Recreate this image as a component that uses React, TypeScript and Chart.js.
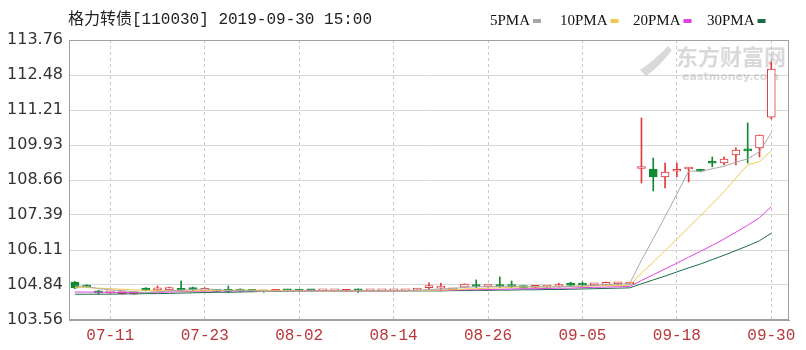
import React, { useEffect, useRef } from 'react';
import { Chart, registerables } from 'chart.js';

Chart.register(...registerables);

const titleText = '格力转债[110030] 2019-09-30 15:00';
const legendNames = ['5PMA', '10PMA', '20PMA', '30PMA'];
const watermarkCn = '东方财富网';
const watermarkEn = 'eastmoney.com';

const dates = [
  '07-08', '07-09', '07-10', '07-11', '07-12', '07-15', '07-16', '07-17', '07-18', '07-19',
  '07-22', '07-23', '07-24', '07-25', '07-26', '07-29', '07-30', '07-31', '08-01', '08-02',
  '08-05', '08-06', '08-07', '08-08', '08-09', '08-12', '08-13', '08-14', '08-15', '08-16',
  '08-19', '08-20', '08-21', '08-22', '08-23', '08-26', '08-27', '08-28', '08-29', '08-30',
  '09-02', '09-03', '09-04', '09-05', '09-06', '09-09', '09-10', '09-11', '09-12', '09-16',
  '09-17', '09-18', '09-19', '09-20', '09-23', '09-24', '09-25', '09-26', '09-27', '09-30',
];

const tickDates = ['07-11', '07-23', '08-02', '08-14', '08-26', '09-05', '09-18', '09-30'];

const yTicks = [103.56, 104.84, 106.11, 107.39, 108.66, 109.93, 111.21, 112.48, 113.76];

const opens = [
  104.94, 104.83, 104.62, 104.55, 104.52, 104.52, 104.72, 104.66, 104.66, 104.66,
  104.74, 104.64, 104.64, 104.62, 104.63, 104.62, 104.61, 104.60, 104.64, 104.64,
  104.63, 104.62, 104.62, 104.60, 104.64, 104.62, 104.62, 104.62, 104.62, 104.65,
  104.74, 104.72, 104.66, 104.76, 104.80, 104.78, 104.80, 104.80, 104.77, 104.75,
  104.76, 104.78, 104.85, 104.86, 104.84, 104.86, 104.88, 104.87, 109.08, 109.06,
  108.77, 108.98, 109.06, 108.99, 109.30, 109.28, 109.57, 109.78, 109.83, 110.95,
];

const closes = [
  104.73, 104.76, 104.55, 104.58, 104.53, 104.52, 104.64, 104.69, 104.74, 104.64,
  104.66, 104.71, 104.60, 104.60, 104.61, 104.60, 104.59, 104.63, 104.62, 104.61,
  104.62, 104.62, 104.62, 104.63, 104.62, 104.62, 104.62, 104.62, 104.65, 104.68,
  104.78, 104.74, 104.68, 104.87, 104.78, 104.78, 104.78, 104.78, 104.74, 104.75,
  104.76, 104.84, 104.82, 104.83, 104.86, 104.92, 104.90, 104.88, 109.12, 108.77,
  108.95, 109.02, 109.10, 108.98, 109.27, 109.42, 109.75, 109.72, 110.30, 112.70,
];

const highs = [
  104.97, 104.85, 104.64, 104.60, 104.55, 104.54, 104.74, 104.80, 104.76, 104.98,
  104.76, 104.74, 104.66, 104.80, 104.70, 104.63, 104.62, 104.65, 104.66, 104.66,
  104.65, 104.63, 104.63, 104.65, 104.69, 104.63, 104.63, 104.63, 104.66, 104.70,
  104.91, 104.90, 104.70, 104.88, 105.02, 104.80, 105.13, 104.98, 104.80, 104.77,
  104.78, 104.90, 104.94, 104.94, 104.88, 104.94, 104.92, 104.90, 110.92, 109.46,
  109.28, 109.28, 109.12, 109.03, 109.50, 109.50, 109.83, 110.74, 110.30, 112.96,
];

const lows = [
  104.70, 104.74, 104.50, 104.53, 104.50, 104.50, 104.62, 104.62, 104.64, 104.60,
  104.63, 104.62, 104.58, 104.56, 104.60, 104.58, 104.57, 104.59, 104.60, 104.59,
  104.60, 104.61, 104.61, 104.59, 104.56, 104.61, 104.61, 104.61, 104.61, 104.64,
  104.70, 104.62, 104.65, 104.75, 104.74, 104.76, 104.74, 104.74, 104.72, 104.73,
  104.74, 104.76, 104.78, 104.78, 104.82, 104.84, 104.86, 104.85, 108.55, 108.26,
  108.37, 108.77, 108.59, 108.96, 109.14, 109.21, 109.21, 109.28, 109.50, 110.88,
];

const ma5 = [
  104.80, 104.78, 104.70, 104.66, 104.63, 104.59, 104.56, 104.59, 104.62, 104.65,
  104.67, 104.69, 104.67, 104.64, 104.64, 104.62, 104.60, 104.61, 104.61, 104.61,
  104.61, 104.62, 104.62, 104.62, 104.62, 104.62, 104.62, 104.62, 104.63, 104.64,
  104.67, 104.69, 104.71, 104.75, 104.77, 104.77, 104.78, 104.80, 104.77, 104.77,
  104.76, 104.77, 104.78, 104.80, 104.82, 104.85, 104.87, 104.88, 105.74, 106.52,
  107.32, 108.15, 108.99, 108.97, 109.07, 109.16, 109.31, 109.43, 109.69, 110.38,
];

const ma10 = [
  104.74, 104.74, 104.72, 104.70, 104.68, 104.66, 104.64, 104.63, 104.63, 104.62,
  104.62, 104.63, 104.64, 104.64, 104.65, 104.65, 104.64, 104.64, 104.63, 104.62,
  104.61, 104.61, 104.62, 104.62, 104.62, 104.62, 104.62, 104.62, 104.62, 104.63,
  104.64, 104.65, 104.66, 104.69, 104.70, 104.72, 104.73, 104.75, 104.76, 104.77,
  104.77, 104.78, 104.79, 104.79, 104.80, 104.81, 104.82, 104.83, 105.27, 105.67,
  106.09, 106.51, 106.93, 107.35, 107.79, 108.24, 108.73, 109.21, 109.33, 109.72,
];

const ma20 = [
  104.58, 104.58, 104.57, 104.57, 104.56, 104.56, 104.56, 104.57, 104.58, 104.59,
  104.60, 104.61, 104.62, 104.62, 104.62, 104.63, 104.63, 104.63, 104.63, 104.63,
  104.63, 104.62, 104.62, 104.62, 104.62, 104.62, 104.62, 104.62, 104.63, 104.63,
  104.64, 104.64, 104.65, 104.66, 104.66, 104.67, 104.68, 104.69, 104.70, 104.70,
  104.71, 104.72, 104.72, 104.74, 104.75, 104.76, 104.77, 104.78, 105.00, 105.21,
  105.42, 105.63, 105.85, 106.06, 106.28, 106.51, 106.76, 107.01, 107.29, 107.69,
];

const ma30 = [
  104.50, 104.50, 104.50, 104.50, 104.51, 104.51, 104.52, 104.52, 104.53, 104.54,
  104.55, 104.56, 104.57, 104.57, 104.58, 104.59, 104.60, 104.60, 104.61, 104.61,
  104.61, 104.62, 104.62, 104.62, 104.62, 104.62, 104.62, 104.62, 104.62, 104.62,
  104.62, 104.62, 104.63, 104.63, 104.64, 104.64, 104.65, 104.65, 104.66, 104.66,
  104.67, 104.67, 104.68, 104.69, 104.70, 104.71, 104.72, 104.73, 104.88, 105.02,
  105.16, 105.31, 105.46, 105.60, 105.76, 105.92, 106.09, 106.26, 106.45, 106.72,
];

const RED = '#e4393c';
const GREEN = '#118a34';
const MA_COLORS = ['#a8a8a8', '#f0c850', '#e040e0', '#1b6b48'];

export default function App() {
  const canvasRef = useRef<HTMLCanvasElement | null>(null);

  useEffect(() => {
    document.body.style.margin = '0';
    const canvas = canvasRef.current;
    if (!canvas) return;

    const labels = [...dates, ''];
    const tickIdx = new Set(tickDates.map((d) => dates.indexOf(d)));
    const isUp = closes.map((c, i) => c >= opens[i]);
    const candleColor = isUp.map((u) => (u ? RED : GREEN));

    const decor = {
      id: 'decor',
      beforeDatasetsDraw(chart: any) {
        const ctx = chart.ctx as CanvasRenderingContext2D;
        ctx.save();
        ctx.fillStyle = 'rgba(170,170,170,0.45)';
        ctx.font = "bold 22px 'Noto Sans CJK SC'";
        ctx.textBaseline = 'middle';
        ctx.textAlign = 'left';
        ctx.fillText(watermarkCn, 676, 57);
        ctx.font = "bold 11px 'DejaVu Sans'";
        ctx.fillText(watermarkEn, 682, 77);
        ctx.beginPath();
        ctx.moveTo(640, 70);
        ctx.quadraticCurveTo(655, 60, 668, 46);
        ctx.lineTo(672, 50);
        ctx.quadraticCurveTo(660, 66, 646, 76);
        ctx.closePath();
        ctx.fill();
        ctx.restore();
      },
      afterDraw(chart: any) {
        const ctx = chart.ctx as CanvasRenderingContext2D;
        const { left, top, right, bottom } = chart.chartArea;
        ctx.save();
        ctx.strokeStyle = '#a0a0a0';
        ctx.lineWidth = 1;
        ctx.strokeRect(Math.round(left) + 0.5, Math.round(top) + 0.5, Math.round(right - left) - 1, Math.round(bottom - top) - 1);

        ctx.fillStyle = '#222';
        ctx.textBaseline = 'middle';
        ctx.textAlign = 'left';
        ctx.font = "16px 'Liberation Mono', 'Noto Sans CJK SC'";
        ctx.fillText(titleText, 68, 20);

        ctx.font = "15px 'Liberation Serif'";
        const xs = [490, 560, 633, 707];
        legendNames.forEach((name, i) => {
          ctx.fillStyle = '#111';
          ctx.fillText(name, xs[i], 21);
          const w = ctx.measureText(name).width;
          ctx.fillStyle = MA_COLORS[i];
          ctx.fillRect(xs[i] + w + 3, 19, 8, 4);
        });
        ctx.restore();
      },
    };

    const chart = new Chart(canvas, {
      type: 'bar',
      data: {
        labels,
        datasets: [
          ...[ma5, ma10, ma20, ma30].map((d, i) => ({
            type: 'line' as const,
            label: legendNames[i],
            data: d,
            borderColor: MA_COLORS[i],
            backgroundColor: MA_COLORS[i],
            borderWidth: 1,
            pointRadius: 0,
            tension: 0,
            fill: false,
            order: 0,
          })),
          {
            type: 'bar' as const,
            label: 'body',
            data: opens.map((o, i) => [Math.min(o, closes[i]), Math.max(o, closes[i])]),
            backgroundColor: isUp.map((u) => (u ? '#ffffff' : GREEN)),
            borderColor: candleColor,
            borderWidth: 1,
            borderSkipped: false,
            barThickness: 8,
            minBarLength: 2,
            grouped: false,
            order: 1,
          },
          {
            type: 'bar' as const,
            label: 'wick',
            data: lows.map((l, i) => [l, highs[i]]),
            backgroundColor: candleColor,
            borderWidth: 0,
            barThickness: 1,
            minBarLength: 1,
            grouped: false,
            order: 2,
          },
        ] as any,
      },
      options: {
        responsive: false,
        animation: false,
        layout: { padding: { top: 40, right: 17, left: 0, bottom: 0 } },
        plugins: { legend: { display: false }, tooltip: { enabled: false }, title: { display: false } },
        scales: {
          x: {
            type: 'category',
            offset: true,
            afterFit: (s: any) => {
              s.height = 30;
            },
            ticks: {
              autoSkip: false,
              maxRotation: 0,
              minRotation: 0,
              padding: 6,
              color: '#b8383b',
              font: { family: "'Liberation Mono'", size: 16 },
              callback: (_v: any, idx: number) => (tickIdx.has(idx) ? labels[idx] : ''),
            },
            grid: {
              offset: false,
              drawTicks: false,
              color: (c: any) => (tickIdx.has(c.index) ? '#c8c8c8' : 'rgba(0,0,0,0)'),
            },
            border: { color: '#a0a0a0', dash: [3, 3] },
          },
          y: {
            type: 'linear',
            min: 103.56,
            max: 113.76,
            afterFit: (s: any) => {
              s.width = 69;
            },
            afterBuildTicks: (s: any) => {
              s.ticks = yTicks.map((v) => ({ value: v }));
            },
            ticks: {
              padding: 6,
              color: '#333',
              font: { family: "'DejaVu Sans'", size: 16 },
              callback: (v: any) => Number(v).toFixed(2),
            },
            grid: { color: '#d8d8d8', drawTicks: false },
            border: { color: '#a0a0a0' },
          },
        },
      } as any,
      plugins: [decor],
    });

    return () => chart.destroy();
  }, []);

  return (
    <div style={{ width: 806, height: 350, background: '#fff' }}>
      <canvas ref={canvasRef} width={806} height={350} style={{ display: 'block' }} />
    </div>
  );
}
